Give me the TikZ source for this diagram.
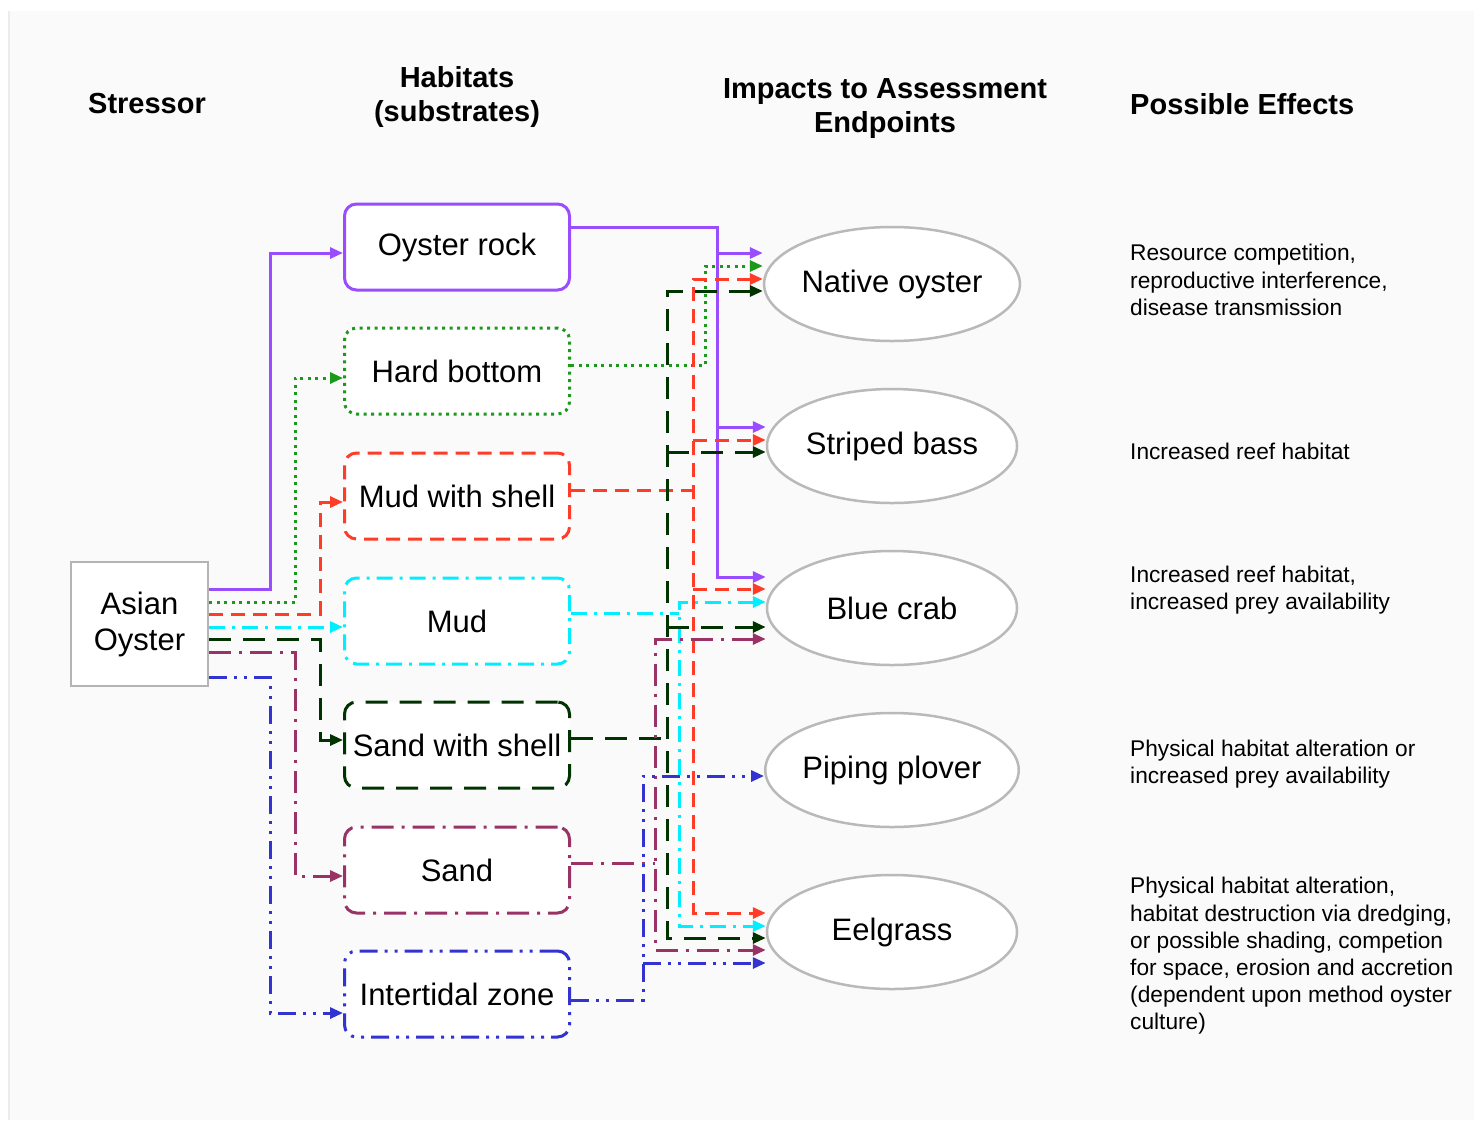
\documentclass[tikz,border=0pt]{standalone}
\usepackage{fontspec}
\setmainfont{Liberation Sans}
\usetikzlibrary{arrows.meta,shapes.geometric,calc}
\definecolor{bgc}{RGB}{250,250,250}
\definecolor{edgec}{RGB}{236,236,236}
\definecolor{boxgray}{RGB}{180,180,180}
\definecolor{ellgray}{RGB}{185,185,185}
\definecolor{purpc}{RGB}{153,77,255}
\definecolor{grnc}{RGB}{26,153,26}
\definecolor{redc}{RGB}{255,60,40}
\definecolor{cyanc}{RGB}{0,238,255}
\definecolor{dkgc}{RGB}{0,51,0}
\definecolor{plmc}{RGB}{153,51,102}
\definecolor{bluc}{RGB}{51,51,210}
\newcommand\mylab{\fontsize{31}{36}\selectfont}
\newcommand\myhead{\fontsize{29}{34}\selectfont\bfseries}
\newcommand\myeff{\fontsize{22.7}{27.2}\selectfont}
\begin{document}
\begin{tikzpicture}[x=1pt,y=-1pt,
  >={Triangle[length=13pt,width=11pt]},
  purpline/.style={draw=purpc,line width=3pt},
  grnline/.style={draw=grnc,line width=3pt,dash pattern=on 3pt off 4.5pt},
  redline/.style={draw=redc,line width=3pt,dash pattern=on 14pt off 8pt},
  cyanline/.style={draw=cyanc,line width=3pt,dash pattern=on 16pt off 7pt on 3pt off 7pt},
  dkgline/.style={draw=dkgc,line width=3pt,dash pattern=on 22pt off 12pt},
  plmline/.style={draw=plmc,line width=3pt,dash pattern=on 22pt off 8pt on 3pt off 8pt},
  bluline/.style={draw=bluc,line width=3pt,dash pattern=on 18pt off 7pt on 3pt off 7pt on 3pt off 7pt},
  hab/.style={rounded corners=12pt,minimum width=225pt,minimum height=86pt,inner sep=0pt,fill=white,font=\mylab},
  ell/.style={ellipse,draw=ellgray,line width=2.5pt,fill=white,minimum width=250pt,minimum height=114pt,inner sep=0pt,font=\mylab},
  head/.style={align=center,inner sep=0pt,font=\myhead},
  eff/.style={align=left,anchor=west,inner sep=0pt,font=\myeff}
]
\useasboundingbox (0,0) rectangle (1474,1120);
\fill[white] (0,0) rectangle (1474,1120);
\fill[bgc] (8,11) rectangle (1474,1120);
\draw[edgec,line width=1.5pt] (8.75,11) -- (8.75,1120);

% headers
\node[head] (hs) at (147,104) {Stressor};
\node[head] (hh) at (457,97) {Habitats\\(substrates)};
\node[head] (hi) at (885,109) {Impacts to Assessment\\Endpoints};
\node[head,anchor=west] (hp) at (1130,104) {Possible Effects};

% stressor
\node[draw=boxgray,line width=2.5pt,fill=white,minimum width=137pt,minimum height=124pt,inner sep=0pt,align=center,font=\mylab] (ao) at (139.5,624) {Asian\\Oyster};

% habitats
\node[hab,purpline] (orock) at (457,247) {Oyster rock};
\node[hab,grnline] (hb) at (457,371) {Hard bottom};
\node[hab,redline] (mws) at (457,496) {Mud with shell};
\node[hab,cyanline] (mud) at (457,621) {Mud};
\node[hab,dkgline] (sws) at (457,745) {Sand with shell};
\node[hab,plmline] (sand) at (457,870) {Sand};
\node[hab,bluline] (itz) at (457,994) {Intertidal zone};

% endpoints
\node[ell] (no) at (892,284) {Native oyster};
\node[ell] (sb) at (892,446) {Striped bass};
\node[ell] (bc) at (892,608) {Blue crab};
\node[ell] (pp) at (892,770) {Piping plover};
\node[ell] (eg) at (892,932) {Eelgrass};

% effects
\node[eff] (e1) at (1130,280) {Resource competition,\\reproductive interference,\\disease transmission};
\node[eff] (e2) at (1130,451) {Increased reef habitat};
\node[eff] (e3) at (1130,590) {Increased reef habitat,\\increased prey availability};
\node[eff] (e4) at (1130,764) {Physical habitat alteration or\\increased prey availability};
\node[eff] (e5) at (1130,956) {Physical habitat alteration,\\habitat destruction via dredging,\\or possible shading, competion\\for space, erosion and accretion\\(dependent upon method oyster\\culture)};

% stressor -> habitats
\draw[purpline,->] (ao.east |- 0,589) -| (270,253) -- (orock.west |- 0,253);
\draw[grnline,->] (ao.east |- 0,602) -| (295,378) -- (hb.west |- 0,378);
\draw[redline,->] (ao.east |- 0,614) -| (320,502) -- (mws.west |- 0,502);
\draw[cyanline,->] (ao.east |- 0,627) -- (mud.west |- 0,627);
\draw[dkgline,->] (ao.east |- 0,639) -| (320,740) -- (sws.west |- 0,740);
\draw[plmline,->] (ao.east |- 0,652) -| (295,876) -- (sand.west |- 0,876);
\draw[bluline,->] (ao.east |- 0,677) -| (270,1013) -- (itz.west |- 0,1013);

% habitats -> endpoints
% oyster rock
\draw[purpline,->] (orock.east |- 0,227) -| (717,577) -- (bc.west |- 0,577);
\draw[purpline,->] (717,253) -- (no.west |- 0,253);
\draw[purpline,->] (717,427) -- (sb.west |- 0,427);
% hard bottom
\draw[grnline,->] (hb.east |- 0,365) -| (705,266) -- (no.west |- 0,266);
% mud with shell
\draw[redline] (mws.east |- 0,490) -- (693,490);
\draw[redline,<->] (no.west |- 0,279) -| (693,913) -- (eg.west |- 0,913);
\draw[redline,->] (693,440) -- (sb.west |- 0,440);
\draw[redline,->] (693,589) -- (bc.west |- 0,589);
% mud
\draw[cyanline] (mud.east |- 0,613) -- (679,613);
\draw[cyanline,<->] (bc.west |- 0,602) -| (679,926) -- (eg.west |- 0,926);
% sand with shell
\draw[dkgline] (sws.east |- 0,738) -- (667,738);
\draw[dkgline,<->] (no.west |- 0,291) -| (667,938) -- (eg.west |- 0,938);
\draw[dkgline,->] (667,452) -- (sb.west |- 0,452);
\draw[dkgline,->] (667,627) -- (bc.west |- 0,627);
% sand
\draw[plmline] (sand.east |- 0,863) -- (655,863);
\draw[plmline,<->] (bc.west |- 0,639) -| (655,950) -- (eg.west |- 0,950);
% intertidal
\draw[bluline,->] (itz.east |- 0,1000) -| (643,776) -- (pp.west |- 0,776);
\draw[bluline,->] (643,963) -- (eg.west |- 0,963);
\end{tikzpicture}
\end{document}
